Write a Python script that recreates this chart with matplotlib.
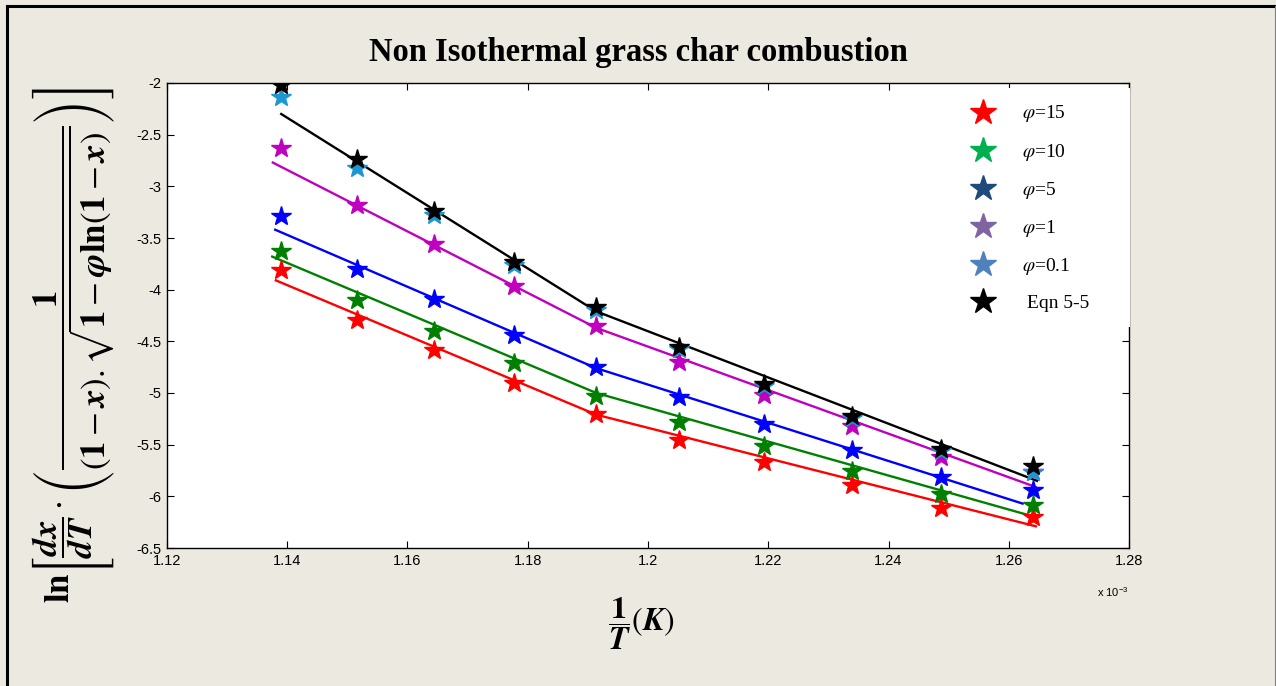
import numpy as np
import matplotlib
matplotlib.use('Agg')
import matplotlib.pyplot as plt
from matplotlib.lines import Line2D
from matplotlib.patches import Rectangle

plt.rcParams['mathtext.fontset'] = 'stix'

# 1/T values, in units of 1e-3 1/K
inv_T = [1.1390, 1.1516, 1.1644, 1.1777, 1.1914, 1.2052, 1.2193, 1.2339, 1.2487, 1.2640]

# measured points (stars)
phi15 = [-3.81, -4.29, -4.58, -4.90, -5.20, -5.45, -5.67, -5.89, -6.11, -6.20]
phi10 = [-3.63, -4.10, -4.40, -4.71, -5.03, -5.28, -5.51, -5.75, -5.98, -6.08]
phi5 = [-3.29, -3.80, -4.09, -4.44, -4.75, -5.04, -5.30, -5.55, -5.81, -5.94]
phi1 = [-2.63, -3.18, -3.56, -3.96, -4.35, -4.70, -5.02, -5.32, -5.62, -5.76]
phi01 = [-2.14, -2.82, -3.28, -3.76, -4.20, -4.57, -4.93, -5.24, -5.56, -5.76]
eqn55 = [-2.02, -2.74, -3.235, -3.73, -4.17, -4.55, -4.91, -5.22, -5.54, -5.71]

# fitted lines (start, break, end)
fit_x = {
    'eqn': [1.1390, 1.1914, 1.2647],
    'p1': [1.1376, 1.1914, 1.2645],
    'p5': [1.1380, 1.1914, 1.2623],
    'p10': [1.1375, 1.1914, 1.2644],
    'p15': [1.1381, 1.1914, 1.2645],
}
fit_y = {
    'eqn': [-2.30, -4.21, -5.85],
    'p1': [-2.77, -4.37, -5.91],
    'p5': [-3.42, -4.76, -6.07],
    'p10': [-3.68, -5.00, -6.20],
    'p15': [-3.91, -5.21, -6.29],
}

xticks = [1.12, 1.14, 1.16, 1.18, 1.2, 1.22, 1.24, 1.26, 1.28]
xticklabels = ['1.12', '1.14', '1.16', '1.18', '1.2', '1.22', '1.24', '1.26', '1.28']
yticks = [-6.5, -6, -5.5, -5, -4.5, -4, -3.5, -3, -2.5, -2]
yticklabels = ['-6.5', '-6', '-5.5', '-5', '-4.5', '-4', '-3.5', '-3', '-2.5', '-2']

leg_labels = [r'$\varphi$=15', r'$\varphi$=10', r'$\varphi$=5', r'$\varphi$=1', r'$\varphi$=0.1', ' Eqn 5-5']
leg_colors = ['#FF0000', '#00B050', '#1F497D', '#8064A2', '#4F81BD', '#000000']

W, H = 1276, 686
fig = plt.figure(figsize=(W / 100, H / 100), dpi=100, facecolor='#ECE9E0')
ax = fig.add_axes([167 / W, 1 - 548 / H, 962 / W, 465 / H])

ms = 14.5
star_series = [(phi15, '#FF0000'), (phi10, '#008000'), (phi5, '#0000FF'),
               (phi1, '#BF00BF'), (phi01, '#1E96D2'), (eqn55, '#000000')]
line_series = [('p15', '#FF0000'), ('p10', '#008000'), ('p5', '#0000FF'),
               ('p1', '#BF00BF'), ('eqn', '#000000')]
for key, c in line_series:
    ax.plot(fit_x[key], fit_y[key], '-', color=c, lw=1.7, zorder=2)
for ys, c in star_series:
    ax.plot(inv_T, ys, '*', color=c, ms=ms, mec=c, zorder=3)

ax.set_xlim(1.12, 1.28)
ax.set_ylim(-6.5, -2)
ax.set_xticks(xticks)
ax.set_xticklabels(xticklabels)
ax.set_yticks(yticks)
ax.set_yticklabels(yticklabels)
ax.tick_params(direction='in', top=True, right=True, length=5, width=0.8,
               labelsize=10.5, pad=4)
for lab in ax.get_xticklabels() + ax.get_yticklabels():
    lab.set_fontfamily('Liberation Sans')
for s in ax.spines.values():
    s.set_linewidth(1.0)

fig.text(1097 / W, 1 - 592 / H, r'x 10$^{\mathregular{-3}}$', fontsize=8,
         fontfamily='Liberation Sans', va='center')

# title
fig.text(638 / W, 1 - 52 / H, 'Non Isothermal grass char combustion',
         fontfamily='Liberation Serif', fontweight='bold', fontsize=23.5,
         ha='center', va='center')

# axis labels
ylab = (r'$\mathbf{ln}\left[\dfrac{\mathbfit{dx}}{\mathbfit{dT}}\cdot\left(\dfrac{\mathbf{1}}'
        r'{(\mathbf{1}-\mathbfit{x}).\sqrt{\mathbf{1}-\mathbfit{\varphi}\mathbf{ln}(\mathbf{1}-\mathbfit{x})}}\right)\right]$')
fig.text(74 / W, 1 - 345 / H, ylab, rotation=90, fontsize=25, ha='center', va='center')
fig.text(641 / W, 1 - 624 / H, r'$\dfrac{\mathbf{1}}{\mathbfit{T}}(\mathbfit{K})$',
         fontsize=23, ha='center', va='center')

# legend box
fig.add_artist(Rectangle((962 / W, 1 - 327 / H), 168 / W, 239 / H,
                         transform=fig.transFigure, facecolor='white',
                         edgecolor='none', zorder=5))
handles = [Line2D([], [], ls='none', marker='*', ms=19, color=c, mec=c) for c in leg_colors]
leg = fig.legend(handles, leg_labels, loc='upper left',
                 bbox_to_anchor=(950 / W, 1 - 86 / H), frameon=False,
                 prop={'family': 'Liberation Serif', 'size': 14},
                 labelspacing=0.88, handlelength=1.6, handletextpad=1.2)
leg.set_zorder(6)

# page frame
fig.add_artist(Line2D([7 / W, 7 / W], [0, 1 - 6 / H], color='black', lw=2.2,
                      transform=fig.transFigure))
fig.add_artist(Line2D([7 / W, 1], [1 - 6 / H, 1 - 6 / H], color='black', lw=2.2,
                      transform=fig.transFigure))
fig.add_artist(Line2D([1 - 1 / W, 1 - 1 / W], [0, 1 - 6 / H], color='#808080', lw=0.8,
                      transform=fig.transFigure))

fig.savefig('out.png', dpi=100, facecolor=fig.get_facecolor())
